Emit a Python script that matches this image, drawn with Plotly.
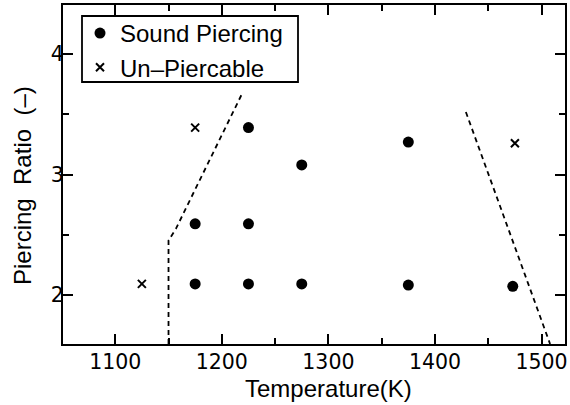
import plotly.graph_objects as go

# Data
sound_T = [1175, 1225, 1275, 1375, 1473, 1175, 1225, 1225, 1275, 1375]
sound_R = [2.09, 2.09, 2.09, 2.08, 2.07, 2.59, 2.59, 3.39, 3.08, 3.27]

unp_T = [1125, 1175, 1475]
unp_R = [2.09, 3.39, 3.26]

left_bound_T = [1150, 1150, 1157, 1220]
left_bound_R = [1.59, 2.45, 2.55, 3.69]
right_bound_T = [1429, 1508]
right_bound_R = [3.52, 1.59]

x_ticks = [1100, 1200, 1300, 1400, 1500]
y_ticks = [2, 3, 4]

TICKFONT = "DejaVu Sans"
TEXTFONT = "Liberation Sans"
NB = "\u00a0"

# plot-area geometry (pixels) used to place the paper-referenced items
L, R, T, B = 63, 565, 5, 344
W, H = R - L, B - T

fig = go.Figure()
fig.add_trace(go.Scatter(x=sound_T, y=sound_R, mode="markers", name="Sound Piercing",
                         marker=dict(symbol="circle", size=11, color="black")))
fig.add_trace(go.Scatter(x=unp_T, y=unp_R, mode="markers", name="Un\u2013Piercable",
                         marker=dict(symbol="x-thin", size=8, color="black",
                                     line=dict(width=2, color="black"))))
fig.add_trace(go.Scatter(x=left_bound_T, y=left_bound_R, mode="lines", showlegend=False,
                         line=dict(color="black", width=1.8, dash="5px,4px")))
fig.add_trace(go.Scatter(x=right_bound_T, y=right_bound_R, mode="lines", showlegend=False,
                         line=dict(color="black", width=1.8, dash="5px,4px")))

axis_common = dict(showline=True, linecolor="black", linewidth=2.2, mirror="ticks",
                   ticks="inside", ticklen=10, tickwidth=1.5, tickcolor="black",
                   showgrid=False, zeroline=False, automargin=False,
                   tickfont=dict(family=TICKFONT, size=20.5, color="black"),
                   minor=dict(ticks="inside", ticklen=6, tickwidth=1.5, tickcolor="black", showgrid=False))

fig.update_xaxes(range=[1051, 1522], tickvals=x_ticks, ticktext=[str(v) for v in x_ticks],
                 minor_dtick=50, ticklabelstandoff=-2, **axis_common)
fig.update_yaxes(range=[1.59, 4.41], tickvals=y_ticks, ticktext=[str(v) for v in y_ticks],
                 minor_dtick=0.5, ticklabelstandoff=-7, **axis_common)

# axis titles
fig.add_annotation(text="Temperature(K)", xref="paper", yref="paper",
                   x=(328 - L) / W, y=(B - 388) / H, xanchor="center", yanchor="middle",
                   showarrow=False, font=dict(family=TEXTFONT, size=24, color="black"))
fig.add_annotation(text="Piercing" + NB + " Ratio" + NB + " (\u2013)", xref="paper", yref="paper",
                   x=(22 - L) / W, y=(B - 186) / H, xanchor="center", yanchor="middle",
                   textangle=-90, showarrow=False, font=dict(family=TEXTFONT, size=24, color="black"))

# legend frame drawn as a shape (pixel-matched to the reference box)
fig.add_shape(type="rect", xref="paper", yref="paper",
              x0=(82 - L) / W, x1=(298 - L) / W,
              y0=(B - 82) / H, y1=(B - 16) / H,
              line=dict(color="black", width=1.8), fillcolor="white", layer="above")

fig.update_layout(
    width=570, height=405,
    margin=dict(l=L, r=570 - R, t=T, b=405 - B, autoexpand=False),
    paper_bgcolor="white", plot_bgcolor="white",
    font=dict(family=TEXTFONT, size=24, color="black"),
    legend=dict(x=(80 - L) / W, y=(B - 11) / H, xanchor="left", yanchor="top",
                bgcolor="rgba(0,0,0,0)", borderwidth=0,
                font=dict(family=TEXTFONT, size=24, color="black"),
                tracegroupgap=0, itemsizing="trace"),
)

fig.write_html("out.html", config={"displayModeBar": False},
               post_script="document.body.style.margin='0';document.body.style.overflow='hidden';")
